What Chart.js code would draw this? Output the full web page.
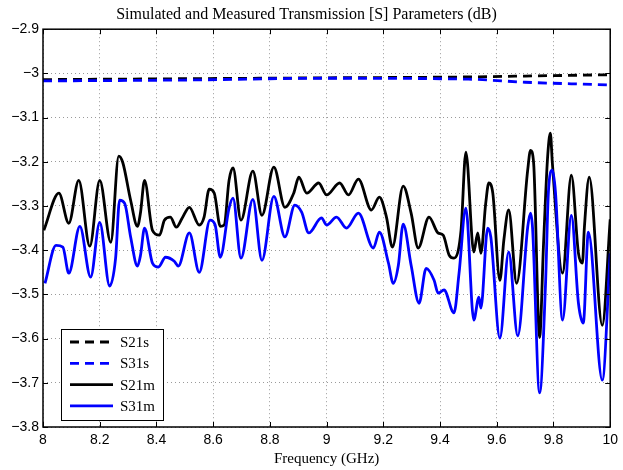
<!DOCTYPE html>
<html>
<head>
<meta charset="utf-8">
<script src="https://cdn.jsdelivr.net/npm/chart.js@4"></script>
<style>
  html, body { margin: 0; padding: 0; background: #fff; }
  #wrap { width: 623px; height: 470px; }
</style>
</head>
<body>
<div id="wrap"><canvas id="c" width="623" height="470"></canvas></div>
<script>
// ---- Data ----
const seriesNames = ["S21s", "S31s", "S21m", "S31m"];
const xTickMin = 8, xTickMax = 10, xTickStep = 0.2;
const yTickMin = -3.8, yTickMax = -2.9, yTickStep = 0.1;

const simFreq = [8.0, 8.5, 9.0, 9.5, 9.7, 10.0];
const s21sVal = [-3.014, -3.012, -3.010, -3.008, -3.006, -3.003];
const s31sVal = [-3.017, -3.015, -3.011, -3.013, -3.020, -3.026];

const s21mFreq = [8.003, 8.056, 8.091, 8.126, 8.165, 8.200, 8.239, 8.267, 8.281, 8.309, 8.333, 8.344, 8.358, 8.386, 8.411, 8.428, 8.449, 8.470, 8.491, 8.516, 8.551, 8.568, 8.586, 8.604, 8.625, 8.639, 8.656, 8.670, 8.698, 8.740, 8.772, 8.814, 8.853, 8.884, 8.902, 8.930, 8.972, 9.000, 9.046, 9.077, 9.112, 9.158, 9.186, 9.211, 9.232, 9.270, 9.298, 9.323, 9.361, 9.393, 9.411, 9.432, 9.449, 9.474, 9.491, 9.519, 9.533, 9.544, 9.561, 9.572, 9.586, 9.611, 9.625, 9.642, 9.670, 9.709, 9.719, 9.730, 9.751, 9.765, 9.779, 9.789, 9.796, 9.832, 9.863, 9.888, 9.902, 9.909, 9.926, 9.972, 10.0];
const s21mVal = [-3.355, -3.271, -3.339, -3.242, -3.391, -3.242, -3.382, -3.187, -3.201, -3.287, -3.346, -3.314, -3.242, -3.355, -3.366, -3.332, -3.325, -3.348, -3.327, -3.303, -3.343, -3.325, -3.262, -3.271, -3.346, -3.343, -3.242, -3.214, -3.332, -3.221, -3.321, -3.212, -3.303, -3.271, -3.235, -3.271, -3.248, -3.275, -3.248, -3.275, -3.239, -3.309, -3.280, -3.325, -3.393, -3.255, -3.316, -3.395, -3.325, -3.361, -3.366, -3.411, -3.418, -3.355, -3.178, -3.404, -3.361, -3.407, -3.294, -3.248, -3.271, -3.468, -3.377, -3.309, -3.475, -3.219, -3.174, -3.203, -3.597, -3.384, -3.192, -3.135, -3.203, -3.452, -3.230, -3.407, -3.429, -3.348, -3.235, -3.570, -3.330];

const s31mFreq = [8.007, 8.046, 8.070, 8.091, 8.130, 8.168, 8.200, 8.235, 8.256, 8.270, 8.288, 8.309, 8.333, 8.344, 8.358, 8.386, 8.407, 8.432, 8.463, 8.477, 8.516, 8.551, 8.589, 8.607, 8.625, 8.656, 8.670, 8.698, 8.740, 8.772, 8.814, 8.853, 8.888, 8.912, 8.937, 8.982, 9.000, 9.035, 9.070, 9.112, 9.165, 9.186, 9.218, 9.235, 9.253, 9.270, 9.298, 9.326, 9.351, 9.379, 9.393, 9.414, 9.449, 9.467, 9.491, 9.519, 9.537, 9.544, 9.568, 9.579, 9.611, 9.642, 9.674, 9.709, 9.719, 9.726, 9.751, 9.772, 9.782, 9.796, 9.807, 9.832, 9.863, 9.888, 9.905, 9.923, 9.972, 10.0];
const s31mVal = [-3.475, -3.389, -3.393, -3.452, -3.346, -3.461, -3.337, -3.481, -3.418, -3.287, -3.294, -3.370, -3.436, -3.411, -3.350, -3.429, -3.438, -3.416, -3.425, -3.436, -3.361, -3.450, -3.332, -3.343, -3.416, -3.305, -3.282, -3.418, -3.285, -3.423, -3.278, -3.370, -3.298, -3.314, -3.361, -3.327, -3.343, -3.325, -3.350, -3.316, -3.395, -3.359, -3.429, -3.475, -3.434, -3.341, -3.434, -3.520, -3.441, -3.468, -3.497, -3.490, -3.542, -3.452, -3.305, -3.558, -3.506, -3.531, -3.350, -3.370, -3.599, -3.404, -3.594, -3.348, -3.316, -3.348, -3.723, -3.475, -3.269, -3.219, -3.269, -3.558, -3.321, -3.520, -3.565, -3.359, -3.694, -3.407];

// ---- Build datasets ----
const toXY = (xs, ys) => xs.map((x, i) => ({ x: x, y: ys[i] }));
const BLUE = '#0000ff', BLACK = '#000000';

const datasets = [
  { label: seriesNames[0], data: toXY(simFreq, s21sVal), borderColor: BLACK, borderDash: [9, 6], order: 3 },
  { label: seriesNames[1], data: toXY(simFreq, s31sVal), borderColor: BLUE, borderDash: [9, 6], order: 2 },
  { label: seriesNames[2], data: toXY(s21mFreq, s21mVal), borderColor: BLACK, order: 1 },
  { label: seriesNames[3], data: toXY(s31mFreq, s31mVal), borderColor: BLUE, order: 0 }
].map(d => Object.assign({
  borderWidth: 2.8, pointRadius: 0, fill: false,
  cubicInterpolationMode: 'monotone', borderJoinStyle: 'round', borderCapStyle: 'butt'
}, d));

const fmt = v => {
  const s = String(parseFloat(Number(v).toFixed(1)));
  return s.replace('-', '\u2212');
};

// Box, inward ticks, legend
const matlabFrame = {
  id: 'matlabFrame',
  afterDatasetsDraw(chart) {
    const { ctx, chartArea: a, scales } = chart;
    ctx.save();
    ctx.strokeStyle = '#000';
    ctx.lineWidth = 1;
    const tl = 5;
    ctx.beginPath();
    scales.x.ticks.forEach(t => {
      const px = Math.round(scales.x.getPixelForValue(t.value)) + 0.5;
      ctx.moveTo(px, a.bottom); ctx.lineTo(px, a.bottom - tl);
      ctx.moveTo(px, a.top); ctx.lineTo(px, a.top + tl);
    });
    scales.y.ticks.forEach(t => {
      const py = Math.round(scales.y.getPixelForValue(t.value)) + 0.5;
      ctx.moveTo(a.left, py); ctx.lineTo(a.left + tl, py);
      ctx.moveTo(a.right, py); ctx.lineTo(a.right - tl, py);
    });
    ctx.stroke();
    ctx.lineWidth = 1.5;
    ctx.strokeRect(a.left, a.top, a.right - a.left, a.bottom - a.top);

    // legend box
    const lx = a.left + 18, ly = a.bottom - 98, lw = 102, lh = 91;
    ctx.fillStyle = '#fff';
    ctx.fillRect(lx, ly, lw, lh);
    ctx.lineWidth = 1;
    ctx.strokeRect(lx + 0.5, ly + 0.5, lw, lh);
    ctx.font = '15px "Liberation Serif", "Times New Roman", serif';
    ctx.textBaseline = 'middle';
    ctx.textAlign = 'left';
    chart.data.datasets.forEach((ds, i) => {
      const y = ly + 13 + i * 21.3;
      ctx.beginPath();
      ctx.strokeStyle = ds.borderColor;
      ctx.lineWidth = 2.8;
      ctx.setLineDash(ds.borderDash || []);
      ctx.moveTo(lx + 9, y);
      ctx.lineTo(lx + 52, y);
      ctx.stroke();
      ctx.setLineDash([]);
      ctx.fillStyle = '#000';
      ctx.fillText(ds.label, lx + 59, y + 1);
    });
    ctx.restore();
  }
};

new Chart(document.getElementById('c'), {
  type: 'line',
  data: { datasets: datasets },
  options: {
    responsive: false,
    animation: false,
    layout: { padding: { left: 0, right: 10, top: 0, bottom: 0 } },
    plugins: {
      legend: { display: false },
      tooltip: { enabled: false },
      title: {
        display: true,
        text: 'Simulated and Measured Transmission [S] Parameters (dB)',
        color: '#000',
        font: { family: '"Liberation Serif", "Times New Roman", serif', size: 16, weight: 'normal' },
        padding: { top: 5, bottom: 5 }
      }
    },
    scales: {
      x: {
        type: 'linear', min: xTickMin, max: xTickMax,
        afterFit: s => { s.height = 43; },
        ticks: { stepSize: xTickStep, color: '#000', padding: 5, maxRotation: 0,
          font: { family: '"Liberation Sans", Arial, sans-serif', size: 14 },
          callback: v => fmt(v) },
        grid: { color: '#9a9a9a', lineWidth: 1, drawTicks: false },
        border: { display: false, dash: [1, 3] },
        title: { display: true, text: 'Frequency (GHz)', color: '#000', padding: { top: 0, bottom: 2 },
          font: { family: '"Liberation Serif", "Times New Roman", serif', size: 15 } }
      },
      y: {
        type: 'linear', min: yTickMin, max: yTickMax,
        afterFit: s => { s.width = 43; },
        ticks: { stepSize: yTickStep, color: '#000', padding: 4,
          font: { family: '"Liberation Sans", Arial, sans-serif', size: 14 },
          callback: v => fmt(v) },
        grid: { color: '#9a9a9a', lineWidth: 1, drawTicks: false },
        border: { display: false, dash: [1, 3] }
      }
    }
  },
  plugins: [matlabFrame]
});
</script>
</body>
</html>
